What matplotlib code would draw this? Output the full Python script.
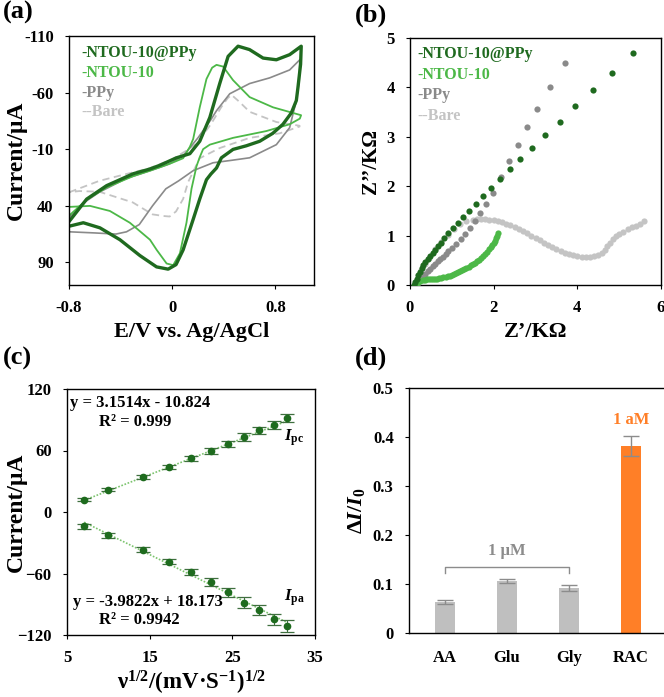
import matplotlib
matplotlib.use("Agg")
import matplotlib.pyplot as plt
import numpy as np

plt.rcParams['font.family'] = ['Liberation Serif', 'DejaVu Serif']
plt.rcParams['font.weight'] = 'bold'
plt.rcParams['mathtext.fontset'] = 'custom'
plt.rcParams['mathtext.rm'] = 'Liberation Serif:bold'
plt.rcParams['mathtext.bf'] = 'Liberation Serif:bold'
plt.rcParams['mathtext.it'] = 'Liberation Serif:italic:bold'

# ---------------- colours ----------------
C_DARK = '#1f6a1f'
C_LIGHT = '#4cb847'
C_GRAY = '#8a8a8a'
C_BARE = '#c4c4c4'

# ---------------- (a) CV data ----------------
cv_ntou_ppy_V = [-0.797, -0.663, -0.508, -0.302, -0.172, -0.095, 0.034, 0.137, 0.214, 0.292, 0.369, 0.434, 0.511,
                 0.600, 0.705, 0.808, 0.911, 1.001,
                 0.996, 0.975, 0.963, 0.924, 0.859, 0.780, 0.679, 0.575, 0.472, 0.382, 0.344, 0.300, 0.266,
                 0.214, 0.163, 0.137, 0.085, 0.030, -0.031, -0.121, -0.250, -0.405, -0.560, -0.689, -0.797]
cv_ntou_ppy_I = [53.6, 34.1, 22.2, 11.7, 7.5, 4.2, -2.4, -6, -17, -38, -68, -92, -101,
                 -98, -90.5, -89, -93.5, -101,
                 -85, -64, -53, -42, -32, -24, -17, -13, -9.8, -2.4, 6.6, 12, 17,
                 34, 52, 61, 79, 92, 96, 94, 84, 70, 59.5, 55, 58]

cv_ntou_V = [-0.797, -0.663, -0.508, -0.302, -0.172, -0.095, 0.0, 0.085, 0.137, 0.163, 0.214, 0.266, 0.310,
             0.344, 0.395, 0.472, 0.601, 0.782, 1.000,
             0.990, 0.911, 0.730, 0.472, 0.292, 0.240, 0.214, 0.189, 0.150, 0.111, 0.060, 0.008, -0.043,
             -0.120, -0.172, -0.328, -0.483, -0.637, -0.797]
cv_ntou_I = [48.5, 34.7, 23.7, 13.8, 9, 6, 2, -2, -12, -19, -47, -72, -82,
             -84.5, -83, -71, -56, -47, -40,
             -37, -32, -26, -20, -14, -10, -3, 5, 25, 55, 82, 92.5, 91,
             79, 70, 55, 44.6, 40.1, 41]

cv_ppy_V = [-0.797, -0.668, -0.565, -0.358, -0.170, -0.020, 0.085, 0.200, 0.300, 0.344, 0.447, 0.601, 0.756,
            0.911, 0.990,
            0.985, 0.963, 0.911, 0.808, 0.601, 0.450, 0.317, 0.163, 0.050, -0.049, -0.152, -0.255, -0.354,
            -0.436, -0.600, -0.797]
cv_ppy_I = [50, 36, 28, 16, 9, 3, -4, -20, -36, -44, -59, -68, -73,
            -80, -89,
            -70, -53, -29, -14, -2.4, 0, 2, 9, 18, 25, 40, 56.6, 63,
            65, 64, 63]

cv_bare_V = [-0.797, -0.565, -0.358, -0.180, 0.0, 0.100, 0.190, 0.300, 0.380, 0.430, 0.460, 0.520, 0.601,
             0.808, 0.988,
             0.988, 0.834, 0.601, 0.369, 0.214, 0.124, 0.085, 0.030, -0.020, -0.070, -0.152, -0.306, -0.565,
             -0.720, -0.797]
cv_bare_I = [28, 18, 12, 7, -1, -8, -15, -32, -47, -55, -58, -52, -43,
             -34, -30.7,
             -30, -24, -20, -11, -2, 19, 34, 45, 49.5, 49, 47.6, 37, 27.6,
             27, 28]

legend_names = ['-NTOU-10@PPy', '-NTOU-10', '-PPy', '--Bare']
legend_colors = [C_DARK, C_LIGHT, C_GRAY, C_BARE]

# ---------------- (b) EIS data ----------------
eis_ntou_ppy_re = [0.10, 0.13, 0.16, 0.20, 0.24, 0.28, 0.32, 0.37, 0.42, 0.48, 0.54, 0.60, 0.66, 0.73, 0.82, 0.92,
                   1.02, 1.14, 1.27, 1.42, 1.58, 1.75, 1.93, 2.15, 2.39, 2.64, 2.92, 3.22, 3.58, 3.94, 4.37,
                   4.83, 5.33]
eis_ntou_ppy_im = [0.00, 0.06, 0.12, 0.20, 0.27, 0.34, 0.40, 0.46, 0.52, 0.58, 0.65, 0.71, 0.78, 0.86, 0.96, 1.06,
                   1.16, 1.26, 1.38, 1.50, 1.64, 1.80, 1.97, 2.14, 2.35, 2.55, 2.78, 3.03, 3.30, 3.62, 3.94,
                   4.29, 4.70]

eis_ppy_re = [0.16, 0.20, 0.25, 0.30, 0.36, 0.42, 0.48, 0.54, 0.60, 0.66, 0.72, 0.78, 0.85, 0.92, 1.00, 1.11,
              1.22, 1.31, 1.43, 1.55, 1.67, 1.82, 1.99, 2.17, 2.36, 2.57, 2.79, 3.03, 3.34, 3.70]
eis_ppy_im = [0.00, 0.06, 0.12, 0.17, 0.23, 0.28, 0.33, 0.38, 0.43, 0.48, 0.53, 0.57, 0.63, 0.68, 0.74, 0.84,
              0.94, 1.04, 1.16, 1.29, 1.45, 1.64, 1.87, 2.18, 2.51, 2.84, 3.19, 3.57, 4.00, 4.49]

eis_ntou_re = [0.12, 0.16, 0.20, 0.25, 0.30, 0.35, 0.40, 0.45, 0.50, 0.55, 0.60, 0.65, 0.70, 0.75, 0.80, 0.85,
               0.90, 0.95, 1.00, 1.05, 1.10, 1.15, 1.20, 1.25, 1.30, 1.35, 1.40, 1.45, 1.50, 1.55, 1.60, 1.65,
               1.70, 1.75, 1.80, 1.85, 1.90, 1.94, 1.97, 2.00, 2.03, 2.06, 2.08, 2.10]
eis_ntou_im = [0.00, 0.04, 0.07, 0.09, 0.10, 0.11, 0.12, 0.12, 0.12, 0.12, 0.12, 0.13, 0.14, 0.15, 0.16, 0.17,
               0.18, 0.19, 0.21, 0.22, 0.24, 0.26, 0.28, 0.30, 0.32, 0.35, 0.37, 0.40, 0.42, 0.45, 0.48, 0.51,
               0.55, 0.59, 0.63, 0.67, 0.72, 0.76, 0.80, 0.85, 0.90, 0.95, 1.00, 1.05]

eis_bare_re = [0.15, 0.20, 0.27, 0.35, 0.45, 0.60, 0.75, 0.90, 1.05, 1.20, 1.35, 1.50, 1.60, 1.70, 1.80,
               1.90, 2.00, 2.10, 2.20, 2.30, 2.40, 2.50, 2.60, 2.70, 2.80, 2.90,
               3.00, 3.10, 3.20, 3.30, 3.40, 3.50, 3.60, 3.70, 3.80, 3.90, 4.00, 4.10, 4.20, 4.30, 4.40, 4.50,
               4.58, 4.65, 4.72, 4.79, 4.86, 4.93, 5.00, 5.10, 5.20, 5.30, 5.40, 5.50, 5.60]
eis_bare_im = [0.00, 0.10, 0.30, 0.42, 0.55, 0.72, 0.88, 1.02, 1.14, 1.23, 1.29, 1.32, 1.33, 1.33, 1.33,
               1.32, 1.31, 1.29, 1.27, 1.24, 1.21, 1.17, 1.13, 1.09, 1.05, 1.00,
               0.96, 0.91, 0.86, 0.81, 0.77, 0.73, 0.69, 0.65, 0.62, 0.60, 0.58, 0.57, 0.57, 0.57, 0.58, 0.61,
               0.65, 0.71, 0.78, 0.86, 0.93, 0.99, 1.03, 1.08, 1.13, 1.17, 1.20, 1.24, 1.29]

# ---------------- (c) scan rate data ----------------
sqrt_v = [7.07, 10.0, 14.14, 17.32, 20.0, 22.36, 24.49, 26.46, 28.28, 30.0, 31.62]
i_pc = [12.1, 21.6, 34.3, 43.8, 52.6, 59.5, 66.4, 73.2, 79.8, 84.7, 91.6]
i_pc_err = [1.5, 1.5, 2, 2, 2.5, 3, 3, 3.5, 3.5, 4, 4]
i_pa = [-14.1, -22.9, -36.6, -48.4, -58.9, -68.0, -78.5, -88.3, -95.5, -104.6, -111.2]
i_pa_err = [2, 2, 2.5, 2.5, 3, 4, 4, 5, 5, 5.5, 6]
fit_pc = (3.1514, -10.824)
fit_pa = (-3.9822, 18.173)

# ---------------- (d) selectivity data ----------------
sel_labels = ['AA', 'Glu', 'Gly', 'RAC']
sel_values = [0.064, 0.106, 0.091, 0.382]
sel_err = [0.004, 0.004, 0.006, 0.02]
sel_colors = ['#bfbfbf', '#bfbfbf', '#bfbfbf', '#ff7f27']

W, H = 664, 697
fig = plt.figure(figsize=(W / 100, H / 100), dpi=100)


def add_axes(x0, x1, y0, y1):
    return fig.add_axes([x0 / W, 1 - y1 / H, (x1 - x0) / W, (y1 - y0) / H])


TICK_FS = 12
LABEL_FS = 16
YLABEL_FS = 17
PANEL_FS = 19


def style(ax):
    for s in ax.spines.values():
        s.set_linewidth(1.0)
    ax.tick_params(direction='out', length=3, width=0.8, labelsize=TICK_FS, pad=8)
    for lab in ax.get_xticklabels() + ax.get_yticklabels():
        lab.set_fontweight('bold')


# ---- (a)
axa = add_axes(69, 314, 36, 285)
axa.plot(cv_bare_V, cv_bare_I, color=C_BARE, lw=1.3, ls=(0, (4, 2.5)))
axa.plot(cv_ppy_V, cv_ppy_I, color=C_GRAY, lw=1.2)
axa.plot(cv_ntou_V, cv_ntou_I, color=C_LIGHT, lw=1.3)
axa.plot(cv_ntou_ppy_V, cv_ntou_ppy_I, color=C_DARK, lw=2.4)
axa.set_xlim(-0.8, 1.1)
axa.set_ylim(110, -110)
axa.set_xticks([-0.8, 0, 0.8])
axa.set_xticklabels(['-0.8', '0', '0.8'])
axa.set_yticks([-110, -60, -10, 40, 90])
axa.set_yticklabels(['-110', '-60', '-10', '40', '90'])
style(axa)
axa.set_xlabel('E/V vs. Ag/AgCl', fontsize=LABEL_FS, fontweight='bold', labelpad=4)
axa.set_ylabel('Current/\u03bcA', fontsize=YLABEL_FS, fontweight='bold')
axa.yaxis.set_label_coords((27 - 69) / 245, 0.5)
for k, (name, col) in enumerate(zip(legend_names, legend_colors)):
    axa.text(0.05, 0.93 - k * 0.079, name, transform=axa.transAxes, color=col,
             fontsize=11.5, fontweight='bold', va='center', ha='left')

# ---- (b)
axb = add_axes(410, 661, 38, 285)
ms = 20
axb.scatter(eis_bare_re, eis_bare_im, s=ms, color=C_BARE, lw=0, zorder=2)
axb.scatter(eis_ppy_re, eis_ppy_im, s=ms, color=C_GRAY, lw=0, zorder=3)
axb.scatter(eis_ntou_re, eis_ntou_im, s=ms, color=C_LIGHT, lw=0, zorder=4)
axb.scatter(eis_ntou_ppy_re, eis_ntou_ppy_im, s=ms, color=C_DARK, lw=0, zorder=5)
axb.set_xlim(0, 6)
axb.set_ylim(0, 5)
axb.set_xticks([0, 2, 4, 6])
axb.set_yticks([0, 1, 2, 3, 4, 5])
style(axb)
axb.set_xlabel('Z\u2019/K\u03a9', fontsize=LABEL_FS, fontweight='bold', labelpad=4)
axb.set_ylabel('Z\u2019\u2019/K\u03a9', fontsize=15, fontweight='bold', labelpad=4)
for k, (name, col) in enumerate(zip(legend_names, legend_colors)):
    axb.text(0.03, 0.935 - k * 0.083, name, transform=axb.transAxes, color=col,
             fontsize=11.5, fontweight='bold', va='center', ha='left')

# ---- (c)
axc = add_axes(67, 315, 389, 635)
xs = np.array(sqrt_v)
xfit = np.array([xs[0], xs[-1]])
axc.plot(xfit, fit_pc[0] * xfit + fit_pc[1], color='#7cc46e', lw=1.2, ls=(0, (1, 1)))
axc.plot(xfit, fit_pa[0] * xfit + fit_pa[1], color='#7cc46e', lw=1.2, ls=(0, (1, 1)))
for yv, ye in ((i_pc, i_pc_err), (i_pa, i_pa_err)):
    axc.errorbar(sqrt_v, yv, yerr=ye, fmt='o', ms=4.5, color='#1e6b1e', mec='#1e6b1e',
                 ecolor='#3f6f3f', elinewidth=0.8, capsize=5, capthick=0.9)
axc.set_xlim(5, 35)
axc.set_ylim(-120, 120)
axc.set_xticks([5, 15, 25, 35])
axc.set_yticks([-120, -60, 0, 60, 120])
style(axc)
axc.set_xlabel('\u03bd$^{1/2}$/(mV\u00b7S$^{-1}$)$^{1/2}$',
               fontsize=16.5, fontweight='bold', labelpad=2)
axc.set_ylabel('Current/\u03bcA', fontsize=YLABEL_FS, fontweight='bold')
axc.yaxis.set_label_coords((27 - 67) / 248, 0.5)
axc.text(0.012, 0.943, 'y = 3.1514x - 10.824', transform=axc.transAxes, fontsize=12,
         fontweight='bold', va='center', ha='left')
axc.text(0.13, 0.865, 'R\u00b2 = 0.999', transform=axc.transAxes, fontsize=12,
         fontweight='bold', va='center', ha='left')
axc.text(0.025, 0.135, 'y = -3.9822x + 18.173', transform=axc.transAxes, fontsize=12,
         fontweight='bold', va='center', ha='left')
axc.text(0.13, 0.062, 'R\u00b2 = 0.9942', transform=axc.transAxes, fontsize=12,
         fontweight='bold', va='center', ha='left')
axc.text(0.875, 0.80, r'$\mathit{I}_{\mathrm{pc}}$', transform=axc.transAxes, fontsize=12, va='center')
axc.text(0.875, 0.15, r'$\mathit{I}_{\mathrm{pa}}$', transform=axc.transAxes, fontsize=12, va='center')

# ---- (d)
axd = add_axes(409, 668, 388, 633)
xpos = np.arange(len(sel_labels))
axd.bar(xpos, sel_values, width=0.33, color=sel_colors, zorder=2)
axd.errorbar(xpos, sel_values, yerr=sel_err, fmt='none', ecolor='#8c8c8c', elinewidth=1.0,
             capsize=6, capthick=1.0, zorder=3)
axd.set_xlim(-0.58, 3.6)
axd.set_ylim(0, 0.5)
axd.set_xticks(xpos)
axd.set_xticklabels(sel_labels)
axd.set_yticks([0, 0.1, 0.2, 0.3, 0.4, 0.5])
axd.set_yticklabels(['0', '0.1', '0.2', '0.3', '0.4', '0.5'])
style(axd)
axd.tick_params(axis='x', length=0, pad=12)
axd.set_ylabel(r'$\Delta\mathit{I}/\mathit{I}_{\mathbf{0}}$', fontsize=LABEL_FS, labelpad=4)
# bracket
bx0, bx1, by, bt = xpos[0], xpos[2], 0.135, 0.122
axd.plot([bx0, bx0, bx1, bx1], [bt, by, by, bt], color='#8c8c8c', lw=1.0)
axd.text((bx0 + bx1) / 2, 0.168, '1 \u03bcM', color='#8c8c8c', fontsize=12, fontweight='bold',
         ha='center', va='center')
axd.text(xpos[3], 0.435, '1 aM', color='#ff7f27', fontsize=12, fontweight='bold',
         ha='center', va='center')

# panel labels
for lab, x, y in (('(a)', 3, 12), ('(b)', 355, 15), ('(c)', 3, 358), ('(d)', 355, 358)):
    fig.text(x / W, 1 - y / H, lab, fontsize=PANEL_FS, fontweight='bold', va='center', ha='left')

fig.savefig('out.png', dpi=100)
